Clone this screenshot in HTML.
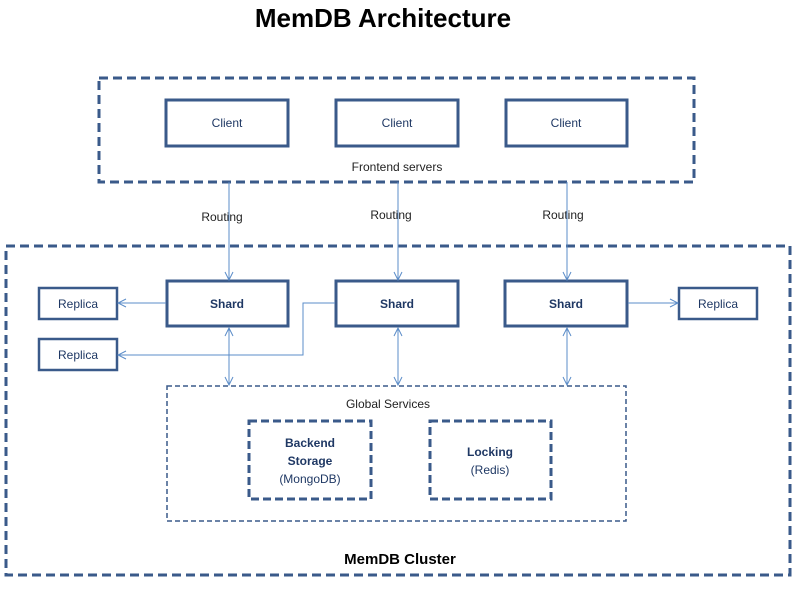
<!DOCTYPE html>
<html><head><style>body{margin:0;background:#fff}</style></head><body>
<svg width="800" height="584" viewBox="0 0 800 584" xmlns="http://www.w3.org/2000/svg" font-family="Liberation Sans, sans-serif">
<defs>
<marker id="a" markerWidth="10" markerHeight="10" refX="9" refY="5" orient="auto-start-reverse" markerUnits="userSpaceOnUse"><path d="M1,1 L9,5 L1,9" fill="none" stroke="#5b8cc8" stroke-width="1"/></marker>
</defs>
<text x="383" y="27" text-anchor="middle" font-size="26" font-weight="bold" fill="#000">MemDB Architecture</text>
<rect x="99" y="78" width="595" height="104" fill="none" stroke="#3a5a8a" stroke-width="3" stroke-dasharray="9,5"/>
<rect x="6" y="246" width="784" height="329" fill="none" stroke="#3a5a8a" stroke-width="3" stroke-dasharray="9,5"/>
<g fill="#fff" stroke="#3a5a8a" stroke-width="3">
<rect x="166" y="100" width="122" height="46"/><rect x="336" y="100" width="122" height="46"/><rect x="506" y="100" width="121" height="46"/>
<rect x="167" y="281" width="121" height="45"/><rect x="336" y="281" width="122" height="45"/><rect x="505" y="281" width="122" height="45"/>
<rect x="39" y="288" width="78" height="31" stroke-width="2.5"/><rect x="39" y="339" width="78" height="31" stroke-width="2.5"/><rect x="679" y="288" width="78" height="31" stroke-width="2.5"/>
</g>
<g font-size="12" fill="#1f3864" text-anchor="middle">
<text x="227" y="127">Client</text><text x="397" y="127">Client</text><text x="566" y="127">Client</text>
<text x="78" y="308">Replica</text><text x="78" y="359">Replica</text><text x="718" y="308">Replica</text>
</g>
<g font-size="12" font-weight="bold" fill="#1f3864" text-anchor="middle">
<text x="227" y="308">Shard</text><text x="397" y="308">Shard</text><text x="566" y="308">Shard</text>
</g>
<g font-size="12" fill="#222" text-anchor="middle">
<text x="397" y="171">Frontend servers</text>
<text x="222" y="221">Routing</text><text x="391" y="219">Routing</text><text x="563" y="219">Routing</text>
<text x="388" y="408">Global Services</text>
</g>
<g stroke="#5b8cc8" stroke-width="1" fill="none">
<line x1="229" y1="182" x2="229" y2="280" marker-end="url(#a)"/>
<line x1="398" y1="182" x2="398" y2="280" marker-end="url(#a)"/>
<line x1="567" y1="182" x2="567" y2="280" marker-end="url(#a)"/>
<line x1="166" y1="303" x2="118" y2="303" marker-end="url(#a)"/>
<polyline points="335,303 303,303 303,355 118,355" marker-end="url(#a)"/>
<line x1="628" y1="303" x2="678" y2="303" marker-end="url(#a)"/>
<line x1="229" y1="328" x2="229" y2="385" marker-start="url(#a)" marker-end="url(#a)"/>
<line x1="398" y1="328" x2="398" y2="385" marker-start="url(#a)" marker-end="url(#a)"/>
<line x1="567" y1="328" x2="567" y2="385" marker-start="url(#a)" marker-end="url(#a)"/>
</g>
<rect x="167" y="386" width="459" height="135" fill="none" stroke="#3a5a8a" stroke-width="1.5" stroke-dasharray="5,3"/>
<rect x="249" y="421" width="122" height="78" fill="none" stroke="#3a5a8a" stroke-width="3" stroke-dasharray="8,4"/>
<rect x="430" y="421" width="121" height="78" fill="none" stroke="#3a5a8a" stroke-width="3" stroke-dasharray="8,4"/>
<g font-size="12" fill="#1f3864" text-anchor="middle">
<text x="310" y="447" font-weight="bold">Backend</text>
<text x="310" y="465" font-weight="bold">Storage</text>
<text x="310" y="483">(MongoDB)</text>
<text x="490" y="456" font-weight="bold">Locking</text>
<text x="490" y="474">(Redis)</text>
</g>
<text x="400" y="564" text-anchor="middle" font-size="15" font-weight="bold" fill="#000">MemDB Cluster</text>
</svg>
</body></html>
